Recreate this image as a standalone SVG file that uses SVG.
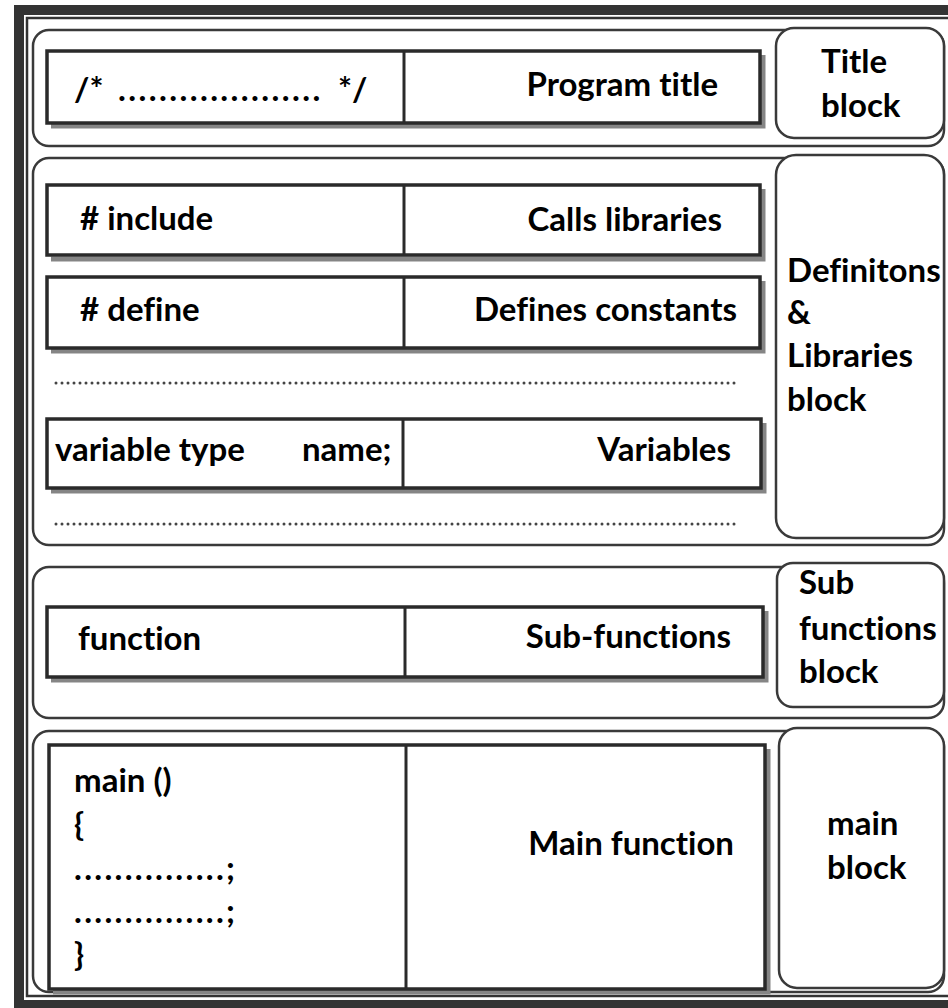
<svg xmlns="http://www.w3.org/2000/svg" width="948" height="1008" viewBox="0 0 948 1008">
<style>
.frame{fill:none;stroke:#333;}
.sec{fill:#fff;stroke:#3a3a3a;stroke-width:2.5;}
.box{fill:#fff;stroke:#3a3a3a;stroke-width:2.5;}
.row{fill:#fff;stroke:#2a2a2a;stroke-width:3.5;}
.shadow{fill:none;stroke:#858585;stroke-width:5;}
.div{stroke:#2a2a2a;stroke-width:3;}
.dots{stroke:#444;stroke-width:3;stroke-linecap:round;stroke-dasharray:0 6;}
text{font-family:Lato,"Liberation Sans",sans-serif;font-weight:bold;font-size:33px;fill:#000;font-variant-ligatures:none;font-feature-settings:"liga" 0,"clig" 0;}
.r{text-anchor:end;}
</style>
<rect width="948" height="1008" fill="#fff"/>
<g id="frame">
<rect class="frame" x="19" y="10" width="960" height="995" stroke-width="10"/>
<rect class="frame" x="27" y="18" width="940" height="978" stroke-width="2.5"/>
</g>
<g id="title-section">
<rect class="sec" x="33" y="30" width="911" height="116" rx="16"/>
<polyline class="shadow" points="763,55 763,126 51,126"/>
<rect class="row" x="47" y="51" width="713" height="72"/>
<line class="div" x1="404" y1="51" x2="404" y2="123"/>
<text x="74" y="101">/*<tspan x="118" letter-spacing="2.4">....................</tspan><tspan x="338">*/</tspan></text>
<text class="r" x="718" y="96">Program title</text>
</g>
<g id="title-block">
<rect class="box" x="776" y="28" width="168" height="110" rx="18"/>
<text x="821" y="73">Title</text>
<text x="821" y="117">block</text>
</g>
<g id="definitions-section">
<rect class="sec" x="33" y="158" width="911" height="387" rx="16"/>
<polyline class="shadow" points="763,189 763,259 51,259"/>
<rect class="row" x="47" y="185" width="713" height="70"/>
<line class="div" x1="404" y1="185" x2="404" y2="255"/>
<text x="80" y="230"># include</text>
<text class="r" x="722" y="231">Calls libraries</text>
<polyline class="shadow" points="763,281 763,351 51,351"/>
<rect class="row" x="47" y="277" width="713" height="71"/>
<line class="div" x1="404" y1="277" x2="404" y2="348"/>
<text x="80" y="321"># define</text>
<text class="r" x="737" y="321">Defines constants</text>
<line class="dots" x1="56" y1="383" x2="738" y2="383"/>
<polyline class="shadow" points="764,423 764,491 51,491"/>
<rect class="row" x="47" y="419" width="714" height="69"/>
<line class="div" x1="403" y1="419" x2="403" y2="488"/>
<text x="55" y="461">variable type<tspan x="302">name;</tspan></text>
<text class="r" x="731" y="461">Variables</text>
<line class="dots" x1="56" y1="524" x2="738" y2="524"/>
</g>
<g id="definitions-block">
<rect class="box" x="776" y="155" width="168" height="383" rx="20"/>
<text x="787" y="282">Definitons</text>
<text x="787" y="324">&amp;</text>
<text x="787" y="367">Libraries</text>
<text x="787" y="411">block</text>
</g>
<g id="subfunctions-section">
<rect class="sec" x="33" y="567" width="911" height="151" rx="16"/>
<polyline class="shadow" points="766,611 766,680 51,680"/>
<rect class="row" x="47" y="607" width="716" height="70"/>
<line class="div" x1="405" y1="607" x2="405" y2="677"/>
<text x="78" y="650">function</text>
<text class="r" x="731" y="648">Sub-functions</text>
</g>
<g id="subfunctions-block">
<rect class="box" x="777" y="563" width="167" height="144" rx="16"/>
<text x="799" y="594">Sub</text>
<text x="799" y="640">functions</text>
<text x="799" y="683">block</text>
</g>
<g id="main-section">
<rect class="sec" x="33" y="731" width="911" height="261" rx="16"/>
<polyline class="shadow" points="768,749 768,992 53,992"/>
<rect class="row" x="49" y="745" width="716" height="244"/>
<line class="div" x1="406" y1="745" x2="406" y2="989"/>
<text x="74" y="792">main ()</text>
<text x="74" y="836">{</text>
<text x="74" y="880" letter-spacing="2.3">...............;</text>
<text x="74" y="923" letter-spacing="2.3">...............;</text>
<text x="74" y="966">}</text>
<text class="r" x="734" y="855">Main function</text>
</g>
<g id="main-block">
<rect class="box" x="779" y="728" width="165" height="260" rx="18"/>
<text x="827" y="835">main</text>
<text x="827" y="879">block</text>
</g>
<g id="connectors"></g>
</svg>
